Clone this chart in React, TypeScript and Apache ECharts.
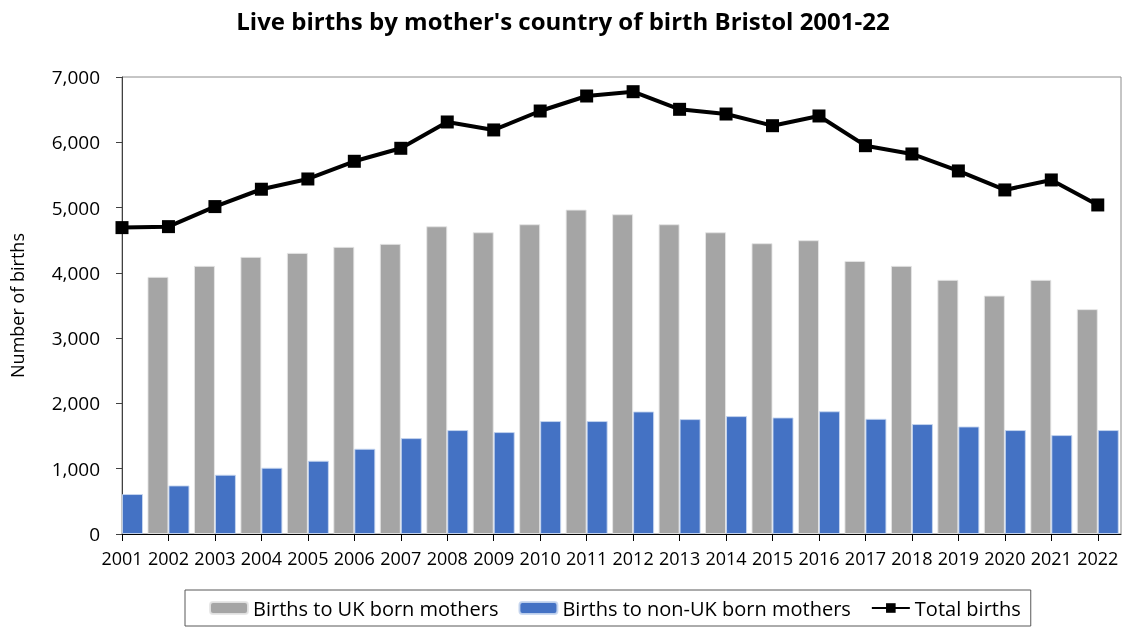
import React, { useEffect, useRef } from 'react';
import * as echarts from 'echarts';

const years = [2001, 2002, 2003, 2004, 2005, 2006, 2007, 2008, 2009, 2010, 2011, 2012, 2013, 2014, 2015, 2016, 2017, 2018, 2019, 2020, 2021, 2022];
const ukBorn: (number | null)[] = [null, 3939, 4107, 4245, 4306, 4398, 4444, 4714, 4622, 4745, 4969, 4898, 4745, 4622, 4454, 4500, 4183, 4107, 3893, 3652, 3893, 3444];
const nonUkBorn = [612, 744, 908, 1015, 1122, 1306, 1469, 1592, 1561, 1730, 1730, 1877, 1760, 1806, 1785, 1880, 1765, 1684, 1647, 1592, 1515, 1592];
const totalBirths = [4693, 4708, 5015, 5281, 5438, 5709, 5908, 6311, 6189, 6479, 6709, 6775, 6505, 6433, 6254, 6403, 5948, 5821, 5561, 5270, 5423, 5040];
const yTicks = [0, 1000, 2000, 3000, 4000, 5000, 6000, 7000];

const FONT = '"Open Sans", sans-serif';

export default function App() {
  const ref = useRef<HTMLDivElement>(null);
  useEffect(() => {
    if (!ref.current) return;
    const chart = echarts.init(ref.current, null, { renderer: 'svg' });
    const pairs = (vals: (number | null)[]) =>
      years.map((y, i) => [y, vals[i]] as [number, number | null]).filter((p) => p[1] != null);
    chart.setOption({
      animation: false,
      textStyle: { fontFamily: FONT },
      title: {
        text: "Live births by mother's country of birth Bristol 2001-22",
        left: 'center',
        top: 3,
        textStyle: { fontFamily: FONT, fontSize: 24, fontWeight: 'bold', color: '#000' },
      },
      grid: {
        left: 120,
        right: 5,
        top: 77,
        bottom: 96,
        show: true,
        borderColor: '#8c8c8c',
        borderWidth: 1,
        containLabel: false,
      },
      legend: {
        left: 185,
        top: 590,
        itemWidth: 38,
        itemHeight: 12,
        itemGap: 20,
        padding: [8, 10, 8, 24],
        borderColor: '#595959',
        borderWidth: 1,
        textStyle: { fontFamily: FONT, fontSize: 20, color: '#000' },
        data: ['Births to UK born mothers', 'Births to non-UK born mothers', 'Total births'],
      },
      xAxis: {
        type: 'value',
        min: 2001,
        max: 2022.5,
        interval: 1,
        splitLine: { show: false },
        axisLine: { show: true, lineStyle: { color: '#000', width: 1 } },
        axisTick: { show: true, length: 7, lineStyle: { color: '#000' }, customValues: years },
        axisLabel: {
          customValues: years,
          margin: 15,
          fontSize: 18,
          fontFamily: FONT,
          color: '#000',
          formatter: (v: number) => String(v),
        },
      },
      yAxis: {
        type: 'value',
        min: 0,
        max: 7000,
        interval: 1000,
        name: 'Number of births',
        nameLocation: 'middle',
        nameGap: 96,
        nameTextStyle: { fontFamily: FONT, fontSize: 18, color: '#000' },
        splitLine: { show: false },
        axisLine: { show: true, lineStyle: { color: '#404040', width: 1 } },
        axisTick: { show: true, length: 6, lineStyle: { color: '#404040' } },
        axisLabel: {
          margin: 22,
          fontSize: 19,
          fontFamily: FONT,
          color: '#000',
          formatter: (v: number) => (yTicks.includes(v) ? v.toLocaleString('en-GB') : ''),
        },
      },
      series: [
        {
          name: 'Births to UK born mothers',
          type: 'bar',
          data: pairs(ukBorn),
          barWidth: 21,
          barGap: '0%',
          clip: true,
          itemStyle: { color: '#a5a5a5', borderColor: 'rgba(230,230,230,0.9)', borderWidth: 1 },
        },
        {
          name: 'Births to non-UK born mothers',
          type: 'bar',
          data: pairs(nonUkBorn),
          barWidth: 21,
          barGap: '0%',
          clip: true,
          itemStyle: { color: '#4472c4', borderColor: 'rgba(200,215,240,0.9)', borderWidth: 1 },
        },
        {
          name: 'Total births',
          type: 'line',
          data: pairs(totalBirths),
          symbol: 'rect',
          symbolSize: 13,
          lineStyle: { color: '#000', width: 4 },
          itemStyle: { color: '#000' },
          z: 5,
        },
      ],
    });
    return () => chart.dispose();
  }, []);
  return <div ref={ref} style={{ position: 'fixed', left: 0, top: 0, width: 1126, height: 630 }} />;
}
